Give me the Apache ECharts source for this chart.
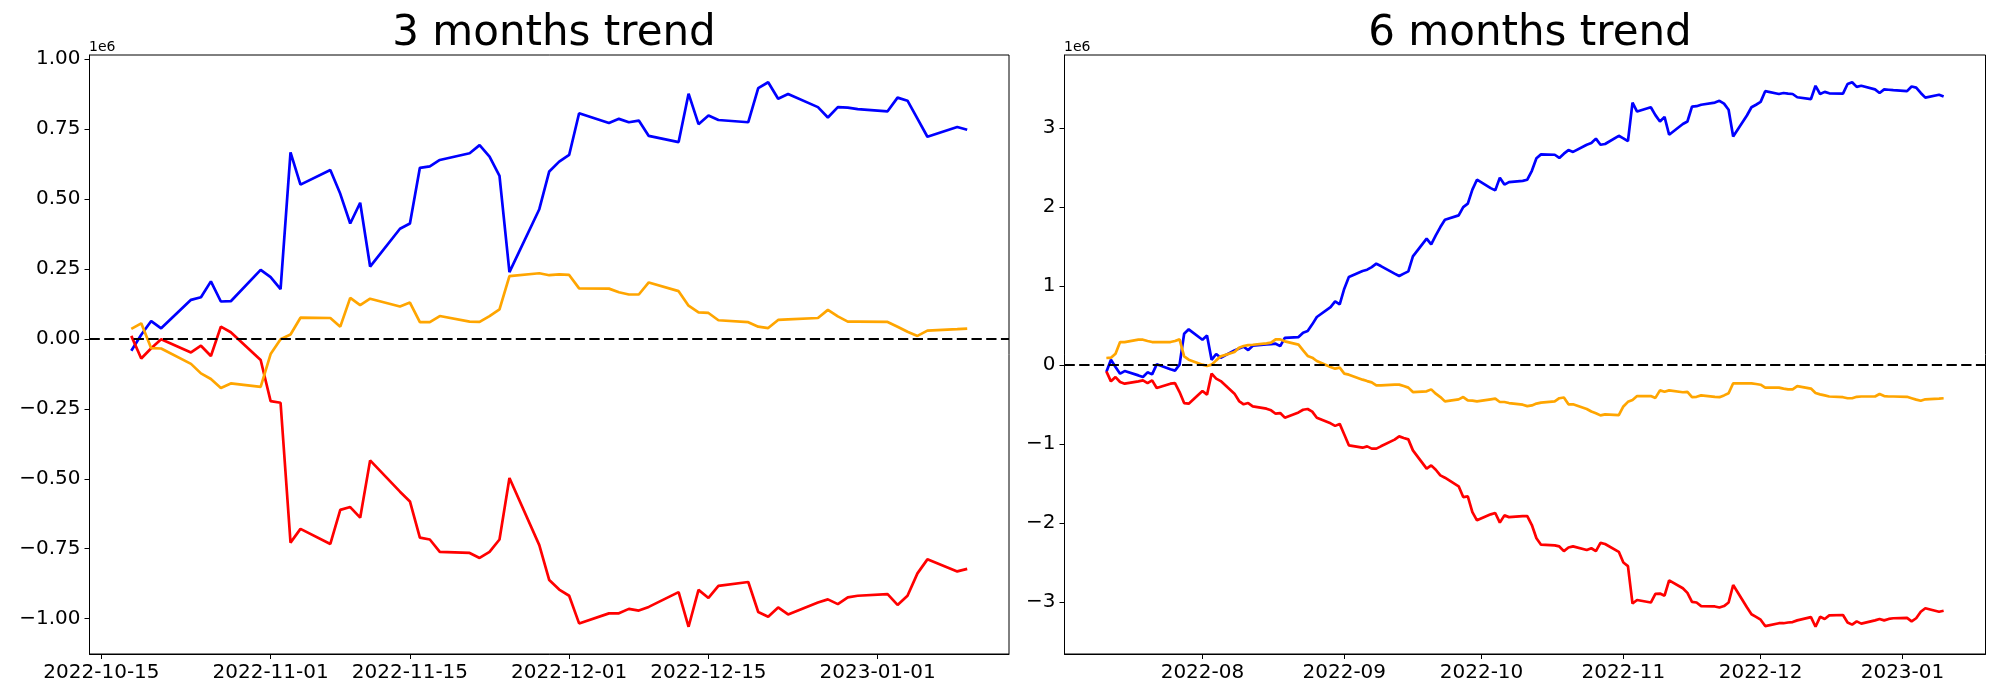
<!DOCTYPE html>
<html>
<head>
<meta charset="utf-8">
<script src="https://cdn.jsdelivr.net/npm/echarts@6/dist/echarts.min.js"></script>
<style>html,body{margin:0;padding:0;background:#fff}#c{width:2000px;height:700px}</style>
</head>
<body>
<div id="c"></div>
<script>
// ---------- DATA (values in units of 1e6) ----------
const dates6m = [
'2022-07-11','2022-07-12','2022-07-13','2022-07-14','2022-07-15',
'2022-07-18','2022-07-19','2022-07-20','2022-07-21','2022-07-22',
'2022-07-25','2022-07-26','2022-07-27','2022-07-28','2022-07-29',
'2022-08-01','2022-08-02','2022-08-03','2022-08-04','2022-08-05',
'2022-08-08','2022-08-09','2022-08-10','2022-08-11','2022-08-12',
'2022-08-15','2022-08-16','2022-08-17','2022-08-18','2022-08-19',
'2022-08-22','2022-08-23','2022-08-24','2022-08-25','2022-08-26',
'2022-08-29','2022-08-30','2022-08-31','2022-09-01','2022-09-02',
'2022-09-05','2022-09-06','2022-09-07','2022-09-08','2022-09-09',
'2022-09-12','2022-09-13','2022-09-14','2022-09-15','2022-09-16',
'2022-09-19','2022-09-20','2022-09-21','2022-09-22','2022-09-23',
'2022-09-26','2022-09-27','2022-09-28','2022-09-29','2022-09-30',
'2022-10-03','2022-10-04','2022-10-05','2022-10-06','2022-10-07',
'2022-10-10','2022-10-11','2022-10-12','2022-10-13','2022-10-14',
'2022-10-17','2022-10-18','2022-10-19','2022-10-20','2022-10-21',
'2022-10-24','2022-10-25','2022-10-26','2022-10-27','2022-10-28',
'2022-10-31','2022-11-01','2022-11-02','2022-11-03','2022-11-04',
'2022-11-07','2022-11-08','2022-11-09','2022-11-10','2022-11-11',
'2022-11-14','2022-11-15','2022-11-16','2022-11-17','2022-11-18',
'2022-11-21','2022-11-22','2022-11-23','2022-11-24','2022-11-25',
'2022-11-28','2022-11-29','2022-11-30','2022-12-01','2022-12-02',
'2022-12-05','2022-12-06','2022-12-07','2022-12-08','2022-12-09',
'2022-12-12','2022-12-13','2022-12-14','2022-12-15','2022-12-16',
'2022-12-19','2022-12-20','2022-12-21','2022-12-22','2022-12-23',
'2022-12-26','2022-12-27','2022-12-28','2022-12-29','2022-12-30',
'2023-01-02','2023-01-03','2023-01-04','2023-01-05','2023-01-06',
'2023-01-09','2023-01-10'
];
const dates3m = dates6m.slice(dates6m.indexOf('2022-10-18'));

const blue3m = [
-0.042,0.015,0.064,0.038,0.140,0.149,0.206,0.134,0.135,0.247,
0.221,0.178,0.667,0.552,0.604,0.519,0.413,0.487,0.259,0.394,0.413,0.612,0.617,0.640,0.664,0.693,0.652,0.583,0.239,0.464,0.599,0.634,
0.658,0.807,0.772,0.787,0.775,0.781,0.726,0.704,0.877,0.768,0.799,0.783,0.775,0.897,0.918,0.859,0.876,0.829,0.792,0.829,0.827,0.822,
0.814,0.863,0.852,0.788,0.723,0.758,0.748
];
const red3m = [
0.011,-0.070,-0.033,-0.001,-0.048,-0.024,-0.061,0.044,0.024,-0.075,
-0.222,-0.228,-0.728,-0.679,-0.733,-0.611,-0.601,-0.639,-0.434,-0.546,-0.581,-0.710,-0.717,-0.761,-0.765,-0.783,-0.761,-0.717,-0.497,-0.737,-0.862,-0.896,
-0.918,-1.017,-0.981,-0.981,-0.965,-0.971,-0.958,-0.905,-1.029,-0.897,-0.926,-0.883,-0.869,-0.976,-0.993,-0.960,-0.985,-0.942,-0.931,-0.948,-0.924,-0.918,
-0.912,-0.951,-0.918,-0.838,-0.788,-0.831,-0.822
];
const orange3m = [
0.036,0.056,-0.033,-0.034,-0.089,-0.123,-0.143,-0.175,-0.159,-0.171,
-0.054,-0.001,0.016,0.076,0.075,0.044,0.147,0.121,0.144,0.116,0.130,0.060,0.060,0.082,0.062,0.061,0.082,0.106,0.225,0.235,0.228,0.231,
0.229,0.181,0.180,0.167,0.159,0.159,0.202,0.171,0.119,0.095,0.093,0.067,0.060,0.044,0.039,0.068,0.070,0.075,0.104,0.081,0.062,0.062,
0.061,0.044,0.026,0.011,0.030,0.035,0.037
];

const blue6m = [
-0.088,0.068,-0.025,-0.109,-0.076,
-0.131,-0.152,-0.092,-0.118,0.009,
-0.054,-0.071,0.005,0.397,0.452,
0.320,0.374,0.066,0.140,0.093,
0.185,0.210,0.232,0.190,0.245,
0.262,0.265,0.270,0.240,0.344,
0.354,0.410,0.430,0.515,0.608,
0.734,0.806,0.768,0.967,1.114,
1.190,1.207,1.240,1.283,1.253,
1.157,1.127,1.157,1.186,1.376,
1.600,1.528,1.642,1.747,1.840,
1.895,2.000,2.043,2.220,2.346,
2.240,2.211,2.372,2.284,2.316,
2.332,2.346,2.459,2.617,2.667,
2.662,2.622,2.676,2.721,2.698,
2.789,2.811,2.866,2.789,2.798,
2.902,2.870,2.834,3.322,3.209,
3.263,3.164,3.083,3.141,2.915,
3.051,3.083,3.272,3.277,3.295,
3.322,3.345,3.309,3.232,2.893,
3.159,3.263,3.295,3.331,3.467,
3.431,3.444,3.435,3.431,3.390,
3.367,3.535,3.431,3.458,3.440,
3.435,3.557,3.580,3.521,3.535,
3.490,3.444,3.490,3.485,3.480,
3.467,3.526,3.512,3.444,3.385,
3.422,3.399
];
const red6m = [
-0.080,-0.206,-0.152,-0.215,-0.236,
-0.206,-0.194,-0.228,-0.194,-0.291,
-0.236,-0.228,-0.342,-0.481,-0.489,
-0.329,-0.375,-0.109,-0.172,-0.203,
-0.362,-0.456,-0.497,-0.481,-0.523,
-0.552,-0.573,-0.616,-0.608,-0.666,
-0.600,-0.566,-0.556,-0.590,-0.668,
-0.738,-0.770,-0.745,-0.880,-1.016,
-1.046,-1.029,-1.058,-1.058,-1.029,
-0.944,-0.903,-0.924,-0.941,-1.080,
-1.311,-1.270,-1.325,-1.397,-1.426,
-1.535,-1.671,-1.662,-1.861,-1.966,
-1.890,-1.873,-1.995,-1.903,-1.925,
-1.912,-1.912,-2.025,-2.192,-2.274,
-2.283,-2.296,-2.355,-2.310,-2.296,
-2.341,-2.319,-2.355,-2.251,-2.265,
-2.364,-2.500,-2.545,-3.019,-2.974,
-3.006,-2.897,-2.893,-2.920,-2.726,
-2.825,-2.884,-2.997,-3.006,-3.051,
-3.056,-3.069,-3.051,-3.006,-2.784,
-3.065,-3.155,-3.187,-3.223,-3.304,
-3.268,-3.268,-3.259,-3.254,-3.232,
-3.191,-3.313,-3.187,-3.214,-3.169,
-3.164,-3.259,-3.286,-3.245,-3.273,
-3.232,-3.214,-3.232,-3.214,-3.205,
-3.200,-3.245,-3.205,-3.123,-3.078,
-3.123,-3.110
];
const orange6m = [
0.089,0.093,0.144,0.291,0.291,
0.321,0.321,0.304,0.291,0.291,
0.291,0.304,0.325,0.110,0.068,
0.005,-0.013,0.005,0.059,0.110,
0.165,0.220,0.241,0.253,0.257,
0.275,0.283,0.325,0.325,0.300,
0.258,0.186,0.115,0.093,0.051,
-0.025,-0.046,-0.033,-0.109,-0.122,
-0.185,-0.203,-0.219,-0.257,-0.257,
-0.248,-0.248,-0.266,-0.286,-0.342,
-0.333,-0.308,-0.362,-0.405,-0.460,
-0.434,-0.405,-0.447,-0.451,-0.460,
-0.434,-0.426,-0.468,-0.468,-0.481,
-0.502,-0.520,-0.511,-0.488,-0.475,
-0.461,-0.420,-0.411,-0.497,-0.497,
-0.556,-0.588,-0.610,-0.637,-0.624,
-0.633,-0.524,-0.466,-0.443,-0.393,
-0.393,-0.416,-0.321,-0.339,-0.321,
-0.344,-0.339,-0.407,-0.402,-0.384,
-0.402,-0.407,-0.384,-0.357,-0.231,
-0.231,-0.231,-0.240,-0.249,-0.285,
-0.285,-0.298,-0.307,-0.307,-0.267,
-0.298,-0.353,-0.371,-0.384,-0.398,
-0.407,-0.420,-0.420,-0.402,-0.398,
-0.398,-0.366,-0.393,-0.398,-0.398,
-0.402,-0.420,-0.438,-0.452,-0.434,
-0.425,-0.420
];

const titles = ['3 months trend', '6 months trend'];
const xTicks3m = ['2022-10-15','2022-11-01','2022-11-15','2022-12-01','2022-12-15','2023-01-01'];
const xTicks6m = ['2022-08-01','2022-09-01','2022-10-01','2022-11-01','2022-12-01','2023-01-01'];
const yTicks3m = [-1.0,-0.75,-0.5,-0.25,0,0.25,0.5,0.75,1.0];
const yTicks6m = [-3,-2,-1,0,1,2,3];
const offsetLabel = '1e6';

// ---------- helpers ----------
function ts(s){ const p = s.split('-').map(Number); return new Date(p[0], p[1]-1, p[2]).getTime(); }
function pairs(ds, vs){ return ds.map((d,i)=>[ts(d), vs[i]]); }
function pad2(n){ return (n<10?'0':'')+n; }
function minus(s){ return s.replace('-', '\u2212'); }
function xRange(ds){ const a=ts(ds[0]), b=ts(ds[ds.length-1]); const m=(b-a)*0.05; return [a-m, b+m]; }
function yRange(arrs){ let lo=Infinity, hi=-Infinity; arrs.forEach(a=>a.forEach(v=>{lo=Math.min(lo,v);hi=Math.max(hi,v);})); const m=(hi-lo)*0.05; return [lo-m, hi+m]; }

const FONT = 'DejaVu Sans';
const grids = [
  {left: 89.5, top: 55, width: 919.5, bottom: 46},
  {left: 1064.5, top: 55, width: 921, bottom: 46}
];

function xAxis(idx, ds, ticks, full){
  const r = xRange(ds);
  const cv = ticks.map(ts);
  return {
    type: 'value', gridIndex: idx, min: r[0], max: r[1], scale: true,
    axisLine: {show: true, onZero: false, lineStyle: {color: '#000', width: 1}},
    axisTick: {show: true, length: 5, lineStyle: {color: '#000', width: 1}, customValues: cv},
    axisLabel: {show: true, color: '#000', fontSize: 20, fontFamily: FONT, margin: 9, customValues: cv,
      hideOverlap: false, showMinLabel: true, showMaxLabel: true,
      formatter: v => { const d = new Date(v); const s = d.getFullYear()+'-'+pad2(d.getMonth()+1); return full ? s+'-'+pad2(d.getDate()) : s; }},
    splitLine: {show: false}
  };
}
function yAxis(idx, arrs, ticks, dec){
  const r = yRange(arrs);
  return {
    type: 'value', gridIndex: idx, min: r[0], max: r[1],
    axisLine: {show: true, onZero: false, lineStyle: {color: '#000', width: 1}},
    axisTick: {show: true, length: 5, lineStyle: {color: '#000', width: 1}, customValues: ticks},
    axisLabel: {show: true, color: '#000', fontSize: 20, fontFamily: FONT, margin: 9, customValues: ticks,
      showMinLabel: true, showMaxLabel: true,
      formatter: v => minus(Number(v).toFixed(dec))},
    splitLine: {show: false}
  };
}
function line(idx, data, color, withZero){
  const s = {
    type: 'line', xAxisIndex: idx, yAxisIndex: idx, data: data,
    showSymbol: false, symbol: 'none', smooth: false, animation: false,
    lineStyle: {color: color, width: 2.7}, itemStyle: {color: color}, silent: true, z: 3
  };
  if (withZero) {
    s.markLine = {silent: true, symbol: ['none','none'], label: {show: false}, animation: false,
      lineStyle: {color: '#000', type: [10.3, 4.4], width: 2.2}, emphasis: {disabled: true},
      data: [{yAxis: 0}]};
  }
  return s;
}

const chart = echarts.init(document.getElementById('c'), null, {renderer: 'canvas'});
chart.setOption({
  backgroundColor: '#fff',
  animation: false,
  title: [
    {text: titles[0], left: 549, top: 8, textAlign: 'center', textStyle: {fontSize: 42, fontWeight: 'normal', fontFamily: FONT, color: '#000'}},
    {text: titles[1], left: 1525, top: 8, textAlign: 'center', textStyle: {fontSize: 42, fontWeight: 'normal', fontFamily: FONT, color: '#000'}}
  ],
  grid: grids.map(g => Object.assign({show: true, borderColor: '#000', borderWidth: 1, backgroundColor: 'transparent', containLabel: false}, g)),
  xAxis: [xAxis(0, dates3m, xTicks3m, true), xAxis(1, dates6m, xTicks6m, false)],
  yAxis: [yAxis(0, [blue3m, red3m, orange3m], yTicks3m, 2), yAxis(1, [blue6m, red6m, orange6m], yTicks6m, 0)],
  series: [
    line(0, pairs(dates3m, blue3m), '#0000ff'),
    line(0, pairs(dates3m, red3m), '#ff0000'),
    line(0, pairs(dates3m, orange3m), '#ffa500', true),
    line(1, pairs(dates6m, blue6m), '#0000ff'),
    line(1, pairs(dates6m, red6m), '#ff0000'),
    line(1, pairs(dates6m, orange6m), '#ffa500', true)
  ],
  graphic: [
    {type: 'text', left: 89, top: 40, style: {text: offsetLabel, fontSize: 14, fontFamily: FONT, fill: '#000'}},
    {type: 'text', left: 1064, top: 40, style: {text: offsetLabel, fontSize: 14, fontFamily: FONT, fill: '#000'}}
  ]
});
</script>
</body>
</html>
